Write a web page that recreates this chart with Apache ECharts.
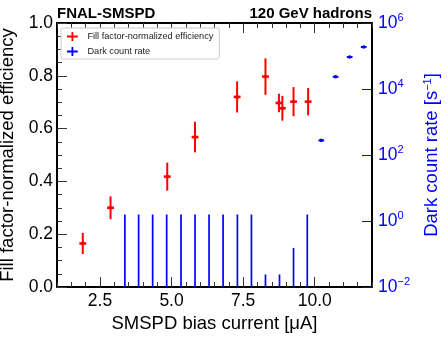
<!DOCTYPE html>
<html>
<head>
<meta charset="utf-8">
<script src="https://cdn.jsdelivr.net/npm/echarts@6/dist/echarts.min.js"></script>
<style>
html,body{margin:0;padding:0;background:#fff;}
#c{width:448px;height:341px;}
</style>
</head>
<body>
<div id="c"></div>
<script>
// ---- data ----
const effX   = [1.90, 2.87, 4.85, 5.82, 7.29, 8.28, 8.75, 8.87, 9.26, 9.77];
const effVal = [0.165, 0.300, 0.418, 0.568, 0.720, 0.797, 0.697, 0.677, 0.702, 0.702];
const effErr = [0.040, 0.043, 0.053, 0.058, 0.059, 0.069, 0.035, 0.047, 0.055, 0.052];
const effXErr = 0.12;

const darkX     = [3.37, 3.85, 4.34, 4.83, 5.33, 5.82, 6.31, 6.80, 7.30, 7.79, 8.28, 8.77, 9.26, 9.74, 10.23, 10.73, 11.22, 11.71];
const darkRate  = [0, 0, 0, 0, 0, 0, 0, 0, 0, 0, 0, 0, 0, 0, 277, 23400, 93000, 188000];
const darkErrUp = [1.57, 1.57, 1.57, 1.57, 1.57, 1.57, 1.57, 1.57, 1.57, 1.57, 0.024, 0.024, 0.153, 1.57, 0, 0, 0, 0];
const darkXErr = 0.1;

const xMajorTicks = [2.5, 5.0, 7.5, 10.0];
const rightTicks = [1e-2, 1, 1e2, 1e4, 1e6];

const RED = '#ff0000', BLUE = '#0000ff';
const FONT = '"Liberation Sans", Arial, Helvetica, sans-serif';
const LOGMIN = 1e-2;

const effData = effX.map((x, i) => [x, effVal[i], effErr[i]]);
const darkData = darkX.map((x, i) => [x, darkRate[i] + darkErrUp[i], darkRate[i]]);

function effRender(params, api) {
  const x = api.value(0), y = api.value(1), e = api.value(2);
  const c = api.coord([x, y]);
  const t = api.coord([x, y + e]);
  const b = api.coord([x, y - e]);
  const l = api.coord([x - effXErr, y]);
  const r = api.coord([x + effXErr, y]);
  return {
    type: 'group',
    children: [
      { type: 'line', shape: { x1: c[0], y1: t[1], x2: c[0], y2: b[1] }, style: { stroke: RED, lineWidth: 2 } },
      { type: 'line', shape: { x1: l[0], y1: c[1], x2: r[0], y2: c[1] }, style: { stroke: RED, lineWidth: 2.5 } },
      { type: 'rect', shape: { x: c[0] - 1.5, y: c[1] - 1.5, width: 3, height: 3 }, style: { fill: RED } }
    ]
  };
}

function darkRender(params, api) {
  const x = api.value(0), up = api.value(1), v = api.value(2);
  const children = [];
  if (v > 0) {
    const c = api.coord([x, v]);
    const l = api.coord([x - darkXErr, v]);
    const r = api.coord([x + darkXErr, v]);
    children.push({ type: 'line', shape: { x1: l[0], y1: c[1], x2: r[0], y2: c[1] }, style: { stroke: BLUE, lineWidth: 2 } });
    children.push({ type: 'circle', shape: { cx: c[0], cy: c[1], r: 1.8 }, style: { fill: BLUE } });
  } else {
    const t = api.coord([x, up]);
    const b = api.coord([x, LOGMIN]);
    children.push({ type: 'line', shape: { x1: t[0], y1: t[1], x2: b[0], y2: b[1] }, style: { stroke: BLUE, lineWidth: 1.7 } });
  }
  return { type: 'group', children };
}

function supFmt(v) {
  const e = Math.round(Math.log10(v));
  return '{b|10}{s|' + (e < 0 ? '\u2212' + (-e) : e) + '}';
}

const xBase = { type: 'value', min: 1, max: 12, splitLine: { show: false } };
const TICKC = '#333';

const option = {
  animation: false,
  backgroundColor: '#fff',
  textStyle: { fontFamily: FONT },
  title: [
    { text: 'FNAL-SMSPD', left: 55, top: 4, padding: [2, 2, 2, 2], textStyle: { fontFamily: FONT, fontWeight: 'bold', fontSize: 15, color: '#000' } },
    { text: '120 GeV hadrons', right: 74, top: 4, padding: [2, 2, 2, 2], textStyle: { fontFamily: FONT, fontWeight: 'bold', fontSize: 15, color: '#000' } }
  ],
  legend: {
    orient: 'vertical',
    left: 61, top: 28,
    padding: [4, 6, 3, 6],
    itemGap: 6,
    itemWidth: 12, itemHeight: 9,
    backgroundColor: '#fff',
    borderColor: '#cccccc', borderWidth: 1, borderRadius: 2,
    textStyle: { fontFamily: FONT, fontSize: 9.2, color: '#222', padding: [0, 0, 0, 4] },
    icon: 'path://M0,4 L12,4 L12,6 L0,6 Z M5,0 L7,0 L7,10 L5,10 Z',
    data: ['Fill factor-normalized efficiency', 'Dark count rate']
  },
  grid: { left: 57, right: 76, top: 23, bottom: 54, containLabel: false, outerBoundsMode: 'none' },
  xAxis: [
    Object.assign({}, xBase, {
      position: 'bottom',
      name: 'SMSPD bias current [\u03bcA]', nameLocation: 'middle', nameGap: 24,
      nameTextStyle: { fontFamily: FONT, fontSize: 18.5, color: '#000' },
      axisLine: { show: true, onZero: false, lineStyle: { color: '#000', width: 2 } },
      axisTick: { show: true, inside: true, length: 10, customValues: xMajorTicks, lineStyle: { color: TICKC, width: 1 } },
      axisLabel: { show: true, customValues: xMajorTicks, margin: 5, fontFamily: FONT, fontSize: 17.5, color: '#000', formatter: v => v.toFixed(1) }
    }),
    Object.assign({}, xBase, {
      position: 'bottom', interval: 0.5,
      axisLine: { show: false, onZero: false },
      axisTick: { show: true, inside: true, length: 5, lineStyle: { color: TICKC, width: 1 } },
      axisLabel: { show: false }
    }),
    Object.assign({}, xBase, {
      position: 'top',
      axisLine: { show: true, onZero: false, lineStyle: { color: '#000', width: 2 } },
      axisTick: { show: true, inside: true, length: 10, customValues: xMajorTicks, lineStyle: { color: TICKC, width: 1 } },
      axisLabel: { show: false }
    }),
    Object.assign({}, xBase, {
      position: 'top', interval: 0.5,
      axisLine: { show: false, onZero: false },
      axisTick: { show: true, inside: true, length: 5, lineStyle: { color: TICKC, width: 1 } },
      axisLabel: { show: false }
    })
  ],
  yAxis: [
    {
      type: 'value', min: 0, max: 1, interval: 0.2, position: 'left',
      name: 'Fill factor-normalized efficiency', nameLocation: 'middle', nameGap: 36,
      nameTextStyle: { fontFamily: FONT, fontSize: 18.5, color: '#000' },
      axisLine: { show: true, onZero: false, lineStyle: { color: '#000', width: 2 } },
      axisTick: { show: true, inside: true, length: 10, lineStyle: { color: TICKC, width: 1 } },
      minorTick: { show: true, splitNumber: 4, length: 5, lineStyle: { color: TICKC, width: 1 } },
      axisLabel: { margin: 4, fontFamily: FONT, fontSize: 17.5, color: '#000', formatter: v => v.toFixed(1) },
      splitLine: { show: false }
    },
    {
      type: 'log', logBase: 10, min: 1e-2, max: 1e6, position: 'right',
      name: '{t|Dark count rate [s}{s|\u22121}{t|]}', nameLocation: 'middle', nameGap: 50, nameRotate: 90,
      nameTextStyle: {
        color: BLUE,
        rich: {
          t: { fontFamily: FONT, fontSize: 18.5, color: BLUE },
          s: { fontFamily: FONT, fontSize: 11, color: BLUE, padding: [0, 0, 9, 0] }
        }
      },
      axisLine: { show: true, onZero: false, lineStyle: { color: '#000', width: 2 } },
      axisTick: { show: true, inside: true, length: 10, customValues: rightTicks, lineStyle: { color: BLUE, width: 1 } },
      axisLabel: {
        customValues: rightTicks, margin: 6, formatter: supFmt,
        rich: {
          b: { fontFamily: FONT, fontSize: 17.5, color: BLUE },
          s: { fontFamily: FONT, fontSize: 11, color: BLUE, padding: [0, 0, 10, 0] }
        }
      },
      splitLine: { show: false }
    }
  ],
  series: [
    {
      name: 'Fill factor-normalized efficiency', type: 'custom',
      xAxisIndex: 0, yAxisIndex: 0,
      itemStyle: { color: RED },
      renderItem: effRender,
      encode: { x: 0, y: 1 },
      data: effData, z: 5
    },
    {
      name: 'Dark count rate', type: 'custom',
      xAxisIndex: 0, yAxisIndex: 1,
      itemStyle: { color: BLUE },
      renderItem: darkRender,
      encode: { x: 0, y: 1 },
      data: darkData, z: 4
    }
  ]
};

const chart = echarts.init(document.getElementById('c'), null, { renderer: 'canvas' });
chart.setOption(option);
</script>
</body>
</html>
